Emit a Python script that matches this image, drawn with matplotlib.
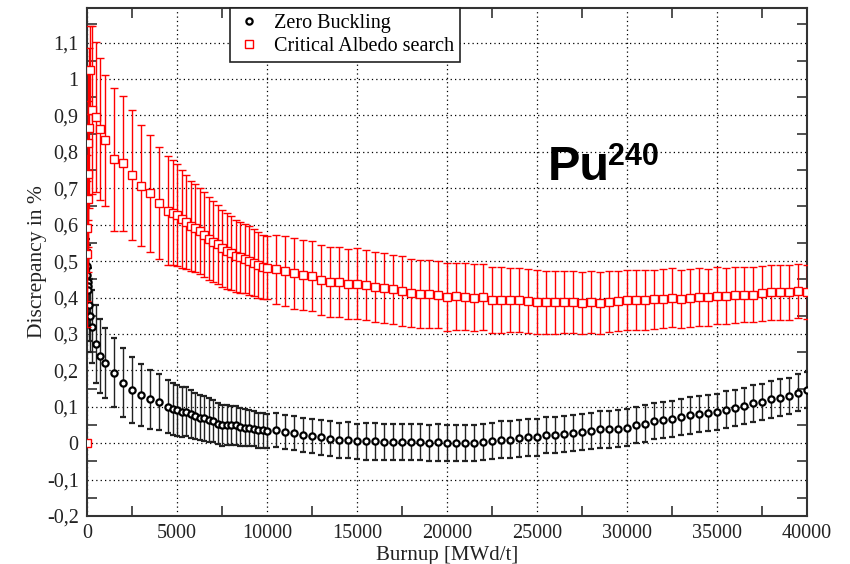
import numpy as np
import matplotlib
matplotlib.use("Agg")
import matplotlib.pyplot as plt
from matplotlib.lines import Line2D
from matplotlib.ticker import FixedLocator, FuncFormatter

# burnup grid [MWd/t]
burnup = np.array(
    [0, 10, 20, 40, 60, 80, 110, 150, 300, 500, 700, 1000, 1500, 2000, 2500, 3000, 3500, 4000]
    + list(range(4500, 10001, 250))
    + list(range(10500, 40001, 500)), dtype=float)

# Zero Buckling
zb_val = [0, 0.486, 0.461, 0.443, 0.431, 0.42, 0.38, 0.35, 0.32, 0.272, 0.24, 0.22, 0.194, 0.166, 0.146, 0.132, 0.12, 0.113,
          0.1, 0.093, 0.09, 0.086, 0.086, 0.08, 0.075, 0.07, 0.068, 0.063, 0.06, 0.054, 0.049, 0.049, 0.049, 0.049,
          0.045, 0.042, 0.042, 0.04, 0.036, 0.035, 0.033,
          0.036,
          0.031, 0.028, 0.022, 0.019, 0.016, 0.012, 0.008, 0.008, 0.005, 0.005, 0.005, 0.003, 0.003, 0.003, 0.003,
          0.003, 0.001, 0.002, 0.0, 0.0, 0.0, 0.0, 0.003, 0.006, 0.01, 0.01, 0.013, 0.016, 0.016, 0.022, 0.022,
          0.025, 0.028,
          0.031, 0.034, 0.038, 0.038, 0.04, 0.043, 0.05, 0.054, 0.061, 0.063, 0.067, 0.072, 0.076, 0.08, 0.083,
          0.086, 0.092, 0.096, 0.102, 0.109, 0.113, 0.12, 0.125, 0.129, 0.139, 0.146]
zb_err = [0, 0.1, 0.1, 0.1, 0.1, 0.1, 0.1, 0.1, 0.1, 0.107, 0.102, 0.096, 0.096, 0.094, 0.09, 0.085, 0.081, 0.076,
          0.073, 0.071, 0.07, 0.068, 0.067, 0.065, 0.064, 0.062, 0.061, 0.06, 0.058, 0.057, 0.056, 0.055, 0.054,
          0.053, 0.052, 0.051, 0.05, 0.049, 0.048, 0.047, 0.046,
          0.046, 0.046, 0.047, 0.047, 0.047, 0.048, 0.048, 0.048, 0.049, 0.049,
          0.05, 0.05, 0.05, 0.05, 0.05, 0.05, 0.05, 0.05, 0.05, 0.05,
          0.05, 0.05, 0.05, 0.05, 0.05, 0.05, 0.05, 0.05, 0.05, 0.05,
          0.05, 0.05, 0.05, 0.05, 0.05, 0.05, 0.05, 0.05, 0.05, 0.05,
          0.05, 0.05, 0.05, 0.05, 0.05, 0.05, 0.05, 0.05, 0.05, 0.05,
          0.05, 0.05, 0.05, 0.05, 0.05, 0.05, 0.05, 0.05, 0.05, 0.05]

# Critical Albedo search
ca_val = [0, 0.52, 0.59, 0.67, 0.74, 0.824, 0.865, 1.025, 0.915, 0.896, 0.862, 0.832, 0.779, 0.768, 0.736, 0.707, 0.686, 0.66,
          0.638, 0.633, 0.626, 0.615, 0.608, 0.596, 0.59, 0.583, 0.573, 0.562, 0.553, 0.546, 0.535, 0.528, 0.523,
          0.514, 0.51, 0.507, 0.501, 0.495, 0.489, 0.484, 0.482,
          0.478,
          0.473, 0.466, 0.462, 0.459, 0.448, 0.443, 0.443, 0.437, 0.438, 0.434, 0.429, 0.425, 0.422, 0.418, 0.413,
          0.409, 0.409, 0.408, 0.402, 0.404, 0.402, 0.4, 0.401, 0.393, 0.393, 0.393, 0.393, 0.391, 0.387, 0.387,
          0.387, 0.388, 0.387,
          0.385, 0.387, 0.385, 0.389, 0.391, 0.393, 0.394, 0.394, 0.395, 0.396, 0.4, 0.395, 0.398, 0.401, 0.401,
          0.405, 0.404, 0.407, 0.408, 0.408, 0.411, 0.414, 0.414, 0.414, 0.418, 0.416]
ca_err = [0, 0.2, 0.2, 0.2, 0.2, 0.21, 0.22, 0.12, 0.23, 0.205, 0.195, 0.18, 0.196, 0.186, 0.178, 0.166, 0.16, 0.154,
          0.15, 0.145, 0.14, 0.134, 0.129, 0.124, 0.121, 0.118, 0.116, 0.113, 0.111, 0.108, 0.106, 0.104, 0.102,
          0.1, 0.098, 0.096, 0.094, 0.092, 0.09, 0.089, 0.087,
          0.095,
          0.097, 0.097, 0.097, 0.097, 0.097, 0.097, 0.097, 0.097, 0.097, 0.097,
          0.096, 0.096, 0.095, 0.095, 0.094, 0.094, 0.093, 0.093, 0.093,
          0.092, 0.092, 0.091, 0.091, 0.09, 0.09, 0.089, 0.089, 0.088, 0.088, 0.087, 0.086, 0.086, 0.085,
          0.085, 0.085, 0.084, 0.084, 0.083, 0.083, 0.082, 0.082, 0.081, 0.081, 0.08, 0.08, 0.079, 0.079,
          0.078, 0.078, 0.077, 0.077, 0.076, 0.076, 0.076, 0.075, 0.075, 0.075, 0.074, 0.074]

y_ticks = [-0.2, -0.1, 0, 0.1, 0.2, 0.3, 0.4, 0.5, 0.6, 0.7, 0.8, 0.9, 1.0, 1.1]
x_ticks = [0, 5000, 10000, 15000, 20000, 25000, 30000, 35000, 40000]

plt.rcParams['font.family'] = ['Liberation Serif', 'DejaVu Serif']

fig = plt.figure(figsize=(8.5, 5.64), dpi=100)
ax = fig.add_axes([87 / 850, 1 - 516 / 564, 720 / 850, 508 / 564])

ax.errorbar(burnup, zb_val, yerr=zb_err, fmt='o', color='black', ecolor='#222222',
            elinewidth=1.0, capsize=2.5, capthick=1.0, markersize=4.5,
            markerfacecolor='white', markeredgewidth=1.6, zorder=3)
ax.errorbar(burnup, ca_val, yerr=ca_err, fmt='s', color='red', ecolor='red',
            elinewidth=1.0, capsize=2.8, capthick=1.0, markersize=5.5,
            markerfacecolor='white', markeredgewidth=1.0, zorder=4)

ax.set_xlim(0, 40000)
ax.set_ylim(-0.2, 1.195)
ax.xaxis.set_major_locator(FixedLocator(x_ticks))
ax.xaxis.set_minor_locator(FixedLocator([2500 + 5000 * i for i in range(8)]))
ax.yaxis.set_major_locator(FixedLocator(y_ticks))
ax.yaxis.set_minor_locator(FixedLocator([-0.15 + 0.1 * i for i in range(14)]))


def fmt_y(v, pos):
    s = ('%.1f' % v).replace('.', ',')
    if s.endswith(',0'):
        s = s[:-2]
    if s == '-0':
        s = '0'
    return s


ax.yaxis.set_major_formatter(FuncFormatter(fmt_y))
ax.tick_params(which='major', length=0, labelsize=14.5, labelcolor='#222222', pad=6)
ax.tick_params(which='minor', direction='in', length=7, width=1.2, color='#333333',
               top=True, right=True)
ax.grid(True, which='major', color='black', linestyle=(0, (1, 2.5)), linewidth=0.9)
for sp in ax.spines.values():
    sp.set_linewidth(1.5)
    sp.set_color('#333333')

ax.set_xlabel('Burnup [MWd/t]', fontsize=15, color='#222222', labelpad=2)
ax.set_ylabel('Discrepancy in %', fontsize=15.5, color='#222222', labelpad=0)

handles = [Line2D([], [], linestyle='none', marker='o', color='black', markersize=4.5,
                  markerfacecolor='white', markeredgewidth=1.6),
           Line2D([], [], linestyle='none', marker='s', color='red', markersize=5.5,
                  markerfacecolor='white', markeredgewidth=1.0)]
leg = ax.legend(handles, ['Zero Buckling', 'Critical Albedo search'], loc='upper left',
                bbox_to_anchor=((230 - 87) / 720, 1.0), borderaxespad=0, fontsize=14.5,
                fancybox=False, framealpha=1, edgecolor='#222222', handlelength=1.3,
                handletextpad=0.6, borderpad=0.28, labelspacing=0.22)
leg.get_frame().set_linewidth(1.2)
leg.set_zorder(10)

ax.text((548 - 87) / 720, (516 - 180) / 508, 'Pu', transform=ax.transAxes,
        fontsize=35, fontweight='bold', family='Liberation Sans', va='baseline', ha='left')
ax.text((608 - 87) / 720, (516 - 165) / 508, '240', transform=ax.transAxes,
        fontsize=22, fontweight='bold', family='Liberation Sans', va='baseline', ha='left')

fig.savefig('out.png', dpi=100)
